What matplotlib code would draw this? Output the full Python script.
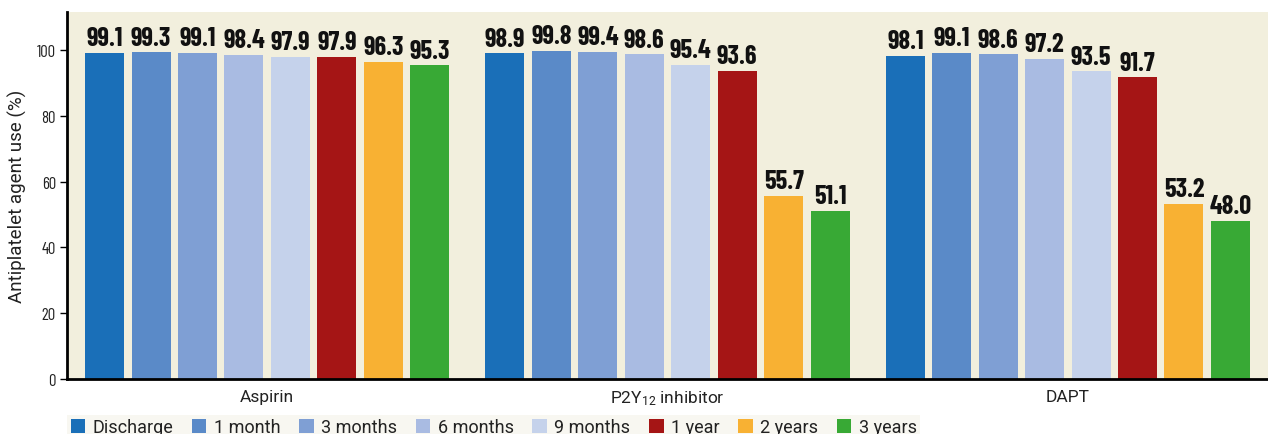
import matplotlib
matplotlib.use("Agg")
import matplotlib.pyplot as plt
import numpy as np
from matplotlib.patches import Patch

TEXT_FONT = ['Roboto', 'DejaVu Sans']
NUM_FONT = ['Barlow Condensed', 'DejaVu Sans']
plt.rcParams['font.family'] = TEXT_FONT
plt.rcParams['mathtext.fontset'] = 'custom'
plt.rcParams['mathtext.rm'] = 'Roboto'
plt.rcParams['mathtext.it'] = 'Roboto'

categories = ["Aspirin", "P2Y$_{12}$ inhibitor", "DAPT"]
series = ["Discharge", "1 month", "3 months", "6 months", "9 months", "1 year", "2 years", "3 years"]
aspirin = [99.1, 99.3, 99.1, 98.4, 97.9, 97.9, 96.3, 95.3]
p2y12 = [98.9, 99.8, 99.4, 98.6, 95.4, 93.6, 55.7, 51.1]
dapt = [98.1, 99.1, 98.6, 97.2, 93.5, 91.7, 53.2, 48.0]
yticks = [0, 20, 40, 60, 80, 100]

colors = ["#1a6fb8", "#5a8ac8", "#7f9fd4", "#a9bbe2", "#c5d2eb", "#a51515", "#f8b133", "#38a935"]

values = np.array([aspirin, p2y12, dapt])

fig = plt.figure(figsize=(12.68, 4.35), dpi=100)
ax = fig.add_axes([67/1268, 1-380/435, 1-67/1268, (380-13)/435])
ax.set_facecolor("#f2efdd")

step = 0.116
width = 0.0975
x = np.arange(len(categories))
for i, s in enumerate(series):
    pos = x + (i - 3.5) * step
    ax.bar(pos, values[:, i], width=width, color=colors[i], label=s)
    for px, v in zip(pos, values[:, i]):
        ax.text(px, v + 0.8, f"{v:.1f}", ha='center', va='bottom',
                fontsize=19, fontweight='bold', family=NUM_FONT, color='#111111')

ax.set_xlim(-0.5, 2.5)
ax.set_ylim(0, 111.5)
ax.set_yticks(yticks)
ax.set_yticklabels([str(t) for t in yticks], fontsize=12, family=NUM_FONT, color='#222222')
ax.set_xticks(x)
ax.set_xticklabels(categories, fontsize=12.5, color='#222222')
ax.tick_params(axis='x', length=0, pad=7)
ax.tick_params(axis='y', direction='out', length=5, width=1, pad=3)
ax.set_ylabel("Antiplatelet agent use (%)", fontsize=13.5, labelpad=7, color='#222222')
for sp in ['top', 'right']:
    ax.spines[sp].set_visible(False)
ax.spines['left'].set_linewidth(2)
ax.spines['bottom'].set_linewidth(2)

handles = [Patch(facecolor=c, edgecolor='none') for c in colors]
leg = fig.legend(handles, series, loc='lower left', bbox_to_anchor=(67/1268, -0.014),
                 ncol=8, frameon=True, fontsize=13, handlelength=0.8, handleheight=0.8,
                 handletextpad=0.4, columnspacing=1.05, borderpad=0.2, borderaxespad=0,
                 labelcolor='#222222')
leg.get_frame().set_facecolor("#f7f6ee")
leg.get_frame().set_edgecolor("none")
leg.get_frame().set_boxstyle("square", pad=0)

fig.savefig("out.png", dpi=100)
